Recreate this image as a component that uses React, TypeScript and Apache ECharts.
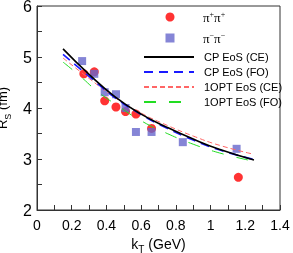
import React, { useEffect, useRef } from "react";
import * as echarts from "echarts";

const xTicks = [0, 0.2, 0.4, 0.6, 0.8, 1, 1.2, 1.4];
const piPlusX = [0.27, 0.33, 0.39, 0.455, 0.51, 0.57, 0.66, 1.16];
const piPlusY = [4.67, 4.71, 4.14, 4.02, 3.93, 3.88, 3.6, 2.64];
const piMinusX = [0.26, 0.33, 0.39, 0.455, 0.51, 0.57, 0.66, 0.84, 1.15];
const piMinusY = [4.92, 4.67, 4.31, 4.27, 4.0, 3.53, 3.53, 3.33, 3.2];

const cpCeX = [0.15, 0.3, 0.45, 0.6, 0.75, 0.9, 1.05, 1.25];
const cpCeY = [5.16, 4.66, 4.22, 3.88, 3.62, 3.39, 3.19, 2.98];
const cpFoX = [0.15, 0.3, 0.45, 0.6, 0.75, 0.9, 1.05, 1.25];
const cpFoY = [5.05, 4.62, 4.2, 3.87, 3.6, 3.37, 3.18, 2.99];
const optCeX = [0.15, 0.3, 0.45, 0.6, 0.75, 0.9, 1.05, 1.24];
const optCeY = [4.98, 4.58, 4.2, 3.9, 3.66, 3.45, 3.27, 3.1];
const optFoX = [0.15, 0.25, 0.35, 0.45, 0.6, 0.75, 0.9, 1.05, 1.23];
const optFoY = [4.9, 4.62, 4.32, 4.08, 3.75, 3.5, 3.29, 3.12, 2.97];

const zip = (xs: number[], ys: number[]) => xs.map((x, i) => [x, ys[i]]);

export default function App() {
  const ref = useRef<HTMLDivElement>(null);
  useEffect(() => {
    if (!ref.current) return;
    const chart = echarts.init(ref.current, null, { renderer: "svg" });
    const axisColor = "#333";
    const lineSeries = (name: string, xs: number[], ys: number[], color: string, type: any, width: number) => ({
      name,
      type: "line",
      data: zip(xs, ys),
      smooth: true,
      showSymbol: false,
      symbol: "none",
      lineStyle: { color, type, width },
      itemStyle: { color },
      z: 3,
    });
    chart.setOption({
      animation: false,
      textStyle: { fontFamily: "Liberation Sans" },
      grid: {
        left: 37,
        top: 6,
        width: 243,
        height: 204,
        show: true,
        borderColor: axisColor,
        borderWidth: 1,
        containLabel: false,
        outerBoundsMode: "none",
      },
      legend: [
        {
          data: [
            { name: "pp", icon: "circle" },
            { name: "mm", icon: "rect" },
          ],
          orient: "vertical",
          left: 160.5,
          top: 5,
          itemWidth: 9,
          itemHeight: 9,
          itemGap: 7,
          formatter: (n: string) => (n === "pp" ? "{p|π}{s|+}{p|π}{s|+}" : "{p|π}{s|−}{p|π}{s|−}"),
          textStyle: {
            padding: [0, 0, 0, 23.5],
            rich: {
              p: { fontFamily: "Liberation Serif", fontSize: 13, color: "#000", verticalAlign: "bottom" },
              s: { fontFamily: "Liberation Serif", fontSize: 8, color: "#000", verticalAlign: "bottom", padding: [0, 0, 6, 0] },
            },
          },
        },
        {
          data: ["CP EoS (CE)", "CP EoS (FO)", "1OPT EoS (CE)", "1OPT EoS (FO)"],
          orient: "vertical",
          left: 138,
          top: 46.5,
          itemWidth: 50,
          itemHeight: 9,
          itemGap: 4,
          itemStyle: { color: "rgba(0,0,0,0)", borderWidth: 0 },
          textStyle: { fontSize: 11, lineHeight: 11, color: "#000", fontFamily: "Liberation Sans", padding: [0, 0, 0, 5] },
        },
      ],
      xAxis: {
        type: "value",
        min: 0,
        max: 1.4,
        interval: 0.2,
        name: "{a|k}{s|T}{a| (GeV)}",
        nameLocation: "middle",
        nameGap: 27,
        nameTextStyle: {
          rich: {
            a: { fontSize: 14, color: "#000", fontFamily: "Liberation Sans", verticalAlign: "bottom", padding: [0, 0, 3, 0] },
            s: { fontSize: 10, color: "#000", fontFamily: "Liberation Sans", verticalAlign: "bottom" },
          },
        },
        axisLine: { lineStyle: { color: axisColor } },
        axisTick: { inside: true, length: 5, lineStyle: { color: axisColor } },
        minorTick: { show: true, splitNumber: 2, length: 5, lineStyle: { color: axisColor } },
        axisLabel: { fontSize: 14, color: "#000", margin: 8, formatter: (v: number) => String(xTicks.find((t) => Math.abs(t - v) < 1e-6) ?? v) },
        splitLine: { show: false },
      },
      yAxis: {
        type: "value",
        min: 2,
        max: 6,
        interval: 1,
        name: "{a|R}{s|S}{a| (fm)}",
        nameLocation: "middle",
        nameGap: 23,
        nameTextStyle: {
          rich: {
            a: { fontSize: 13, color: "#000", fontFamily: "Liberation Sans", verticalAlign: "bottom", padding: [0, 0, 3, 0] },
            s: { fontSize: 9, color: "#000", fontFamily: "Liberation Sans", verticalAlign: "bottom" },
          },
        },
        axisLine: { show: true, lineStyle: { color: axisColor } },
        axisTick: { inside: true, length: 5, lineStyle: { color: axisColor } },
        minorTick: { show: true, splitNumber: 2, length: 5, lineStyle: { color: axisColor } },
        axisLabel: { fontSize: 16, color: "#000", margin: 5 },
        splitLine: { show: false },
      },
      series: [
        {
          name: "pp",
          type: "scatter",
          data: zip(piPlusX, piPlusY),
          symbol: "circle",
          symbolSize: 9,
          itemStyle: { color: "#ff0000" },
          z: 2,
        },
        {
          name: "mm",
          type: "scatter",
          data: zip(piMinusX, piMinusY),
          symbol: "rect",
          symbolSize: 8,
          itemStyle: { color: "#6666cc" },
          z: 2,
        },
        lineSeries("1OPT EoS (FO)", optFoX, optFoY, "#22dd22", [12, 13], 1),
        lineSeries("1OPT EoS (CE)", optCeX, optCeY, "#ff6666", [5, 3], 1),
        lineSeries("CP EoS (FO)", cpFoX, cpFoY, "#1a1aff", [9, 6], 1.6),
        lineSeries("CP EoS (CE)", cpCeX, cpCeY, "#000000", "solid", 1.6),
      ],
    });
    return () => chart.dispose();
  }, []);
  return <div ref={ref} style={{ position: "fixed", left: 0, top: 0, width: 293, height: 253 }} />;
}
